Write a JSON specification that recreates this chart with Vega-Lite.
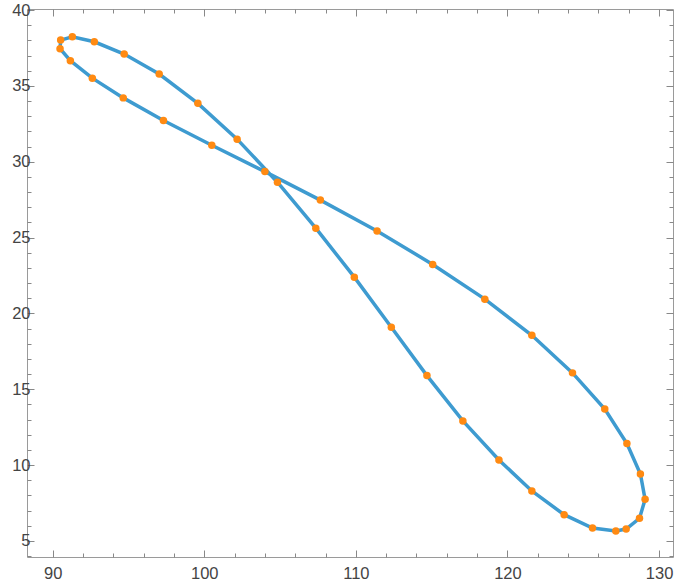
{
  "$schema": "https://vega.github.io/schema/vega-lite/v6.json",
  "width": 646,
  "height": 548,
  "autosize": "none",
  "padding": {"left": 27, "top": 9, "right": 7, "bottom": 30},
  "background": "white",
  "config": {
    "view": {"stroke": "#9a9a9a", "strokeWidth": 1},
    "axis": {
      "grid": false,
      "domain": false,
      "labelFont": "Liberation Sans",
      "labelFontSize": 16.5,
      "labelColor": "#444444",
      "tickColor": "#888888",
      "tickWidth": 1,
      "title": null
    }
  },
  "data": {
    "values": [
      {"i": 1, "x": 90.53, "y": 38.02},
      {"i": 2, "x": 91.30, "y": 38.24},
      {"i": 3, "x": 92.75, "y": 37.91},
      {"i": 4, "x": 94.72, "y": 37.10},
      {"i": 5, "x": 97.03, "y": 35.78},
      {"i": 6, "x": 99.58, "y": 33.85},
      {"i": 7, "x": 102.17, "y": 31.49},
      {"i": 8, "x": 104.83, "y": 28.65},
      {"i": 9, "x": 107.36, "y": 25.62},
      {"i": 10, "x": 109.90, "y": 22.39},
      {"i": 11, "x": 112.34, "y": 19.09},
      {"i": 12, "x": 114.69, "y": 15.90},
      {"i": 13, "x": 117.06, "y": 12.91},
      {"i": 14, "x": 119.44, "y": 10.34},
      {"i": 15, "x": 121.61, "y": 8.29},
      {"i": 16, "x": 123.74, "y": 6.73},
      {"i": 17, "x": 125.61, "y": 5.85},
      {"i": 18, "x": 127.15, "y": 5.65},
      {"i": 19, "x": 127.83, "y": 5.78},
      {"i": 20, "x": 128.71, "y": 6.49},
      {"i": 21, "x": 129.08, "y": 7.74},
      {"i": 22, "x": 128.77, "y": 9.41},
      {"i": 23, "x": 127.88, "y": 11.42},
      {"i": 24, "x": 126.42, "y": 13.70},
      {"i": 25, "x": 124.29, "y": 16.08},
      {"i": 26, "x": 121.61, "y": 18.56},
      {"i": 27, "x": 118.51, "y": 20.94},
      {"i": 28, "x": 115.07, "y": 23.23},
      {"i": 29, "x": 111.40, "y": 25.44},
      {"i": 30, "x": 107.66, "y": 27.47},
      {"i": 31, "x": 104.00, "y": 29.35},
      {"i": 32, "x": 100.50, "y": 31.09},
      {"i": 33, "x": 97.31, "y": 32.72},
      {"i": 34, "x": 94.66, "y": 34.21},
      {"i": 35, "x": 92.62, "y": 35.51},
      {"i": 36, "x": 91.17, "y": 36.66},
      {"i": 37, "x": 90.49, "y": 37.45}
    ]
  },
  "layer": [
    {
      "mark": {"type": "line", "interpolate": "linear-closed", "color": "#3e9bd0", "strokeWidth": 3.5},
      "encoding": {
        "x": {
          "field": "x", "type": "quantitative",
          "scale": {"domain": [88.31, 130.92], "nice": false, "zero": false},
          "axis": {
            "orient": "bottom",
            "values": [90, 92, 94, 96, 98, 100, 102, 104, 106, 108, 110, 112, 114, 116, 118, 120, 122, 124, 126, 128, 130],
            "labelExpr": "datum.value % 10 === 0 ? datum.label : ''",
            "tickSize": {"condition": {"test": "datum.value % 10 === 0", "value": -7}, "value": -4},
            "labelPadding": 15
          }
        },
        "y": {
          "field": "y", "type": "quantitative",
          "scale": {"domain": [3.94, 40.07], "nice": false, "zero": false},
          "axis": {
            "orient": "left",
            "values": [4, 5, 6, 7, 8, 9, 10, 11, 12, 13, 14, 15, 16, 17, 18, 19, 20, 21, 22, 23, 24, 25, 26, 27, 28, 29, 30, 31, 32, 33, 34, 35, 36, 37, 38, 39, 40],
            "labelExpr": "datum.value % 5 === 0 ? datum.label : ''",
            "tickSize": {"condition": {"test": "datum.value % 5 === 0", "value": -7}, "value": -4},
            "labelPadding": 4
          }
        },
        "order": {"field": "i", "type": "quantitative"}
      }
    },
    {
      "mark": {"type": "circle", "color": "#ff8a12", "opacity": 1, "size": 56},
      "encoding": {
        "x": {
          "field": "x", "type": "quantitative",
          "axis": {
            "orient": "top",
            "values": [90, 92, 94, 96, 98, 100, 102, 104, 106, 108, 110, 112, 114, 116, 118, 120, 122, 124, 126, 128, 130],
            "labels": false,
            "tickSize": {"condition": {"test": "datum.value % 10 === 0", "value": -7}, "value": -4}
          }
        },
        "y": {
          "field": "y", "type": "quantitative",
          "axis": {
            "orient": "right",
            "values": [4, 5, 6, 7, 8, 9, 10, 11, 12, 13, 14, 15, 16, 17, 18, 19, 20, 21, 22, 23, 24, 25, 26, 27, 28, 29, 30, 31, 32, 33, 34, 35, 36, 37, 38, 39, 40],
            "labels": false,
            "tickSize": {"condition": {"test": "datum.value % 5 === 0", "value": -7}, "value": -4}
          }
        }
      }
    }
  ],
  "resolve": {"axis": {"x": "independent", "y": "independent"}}
}
